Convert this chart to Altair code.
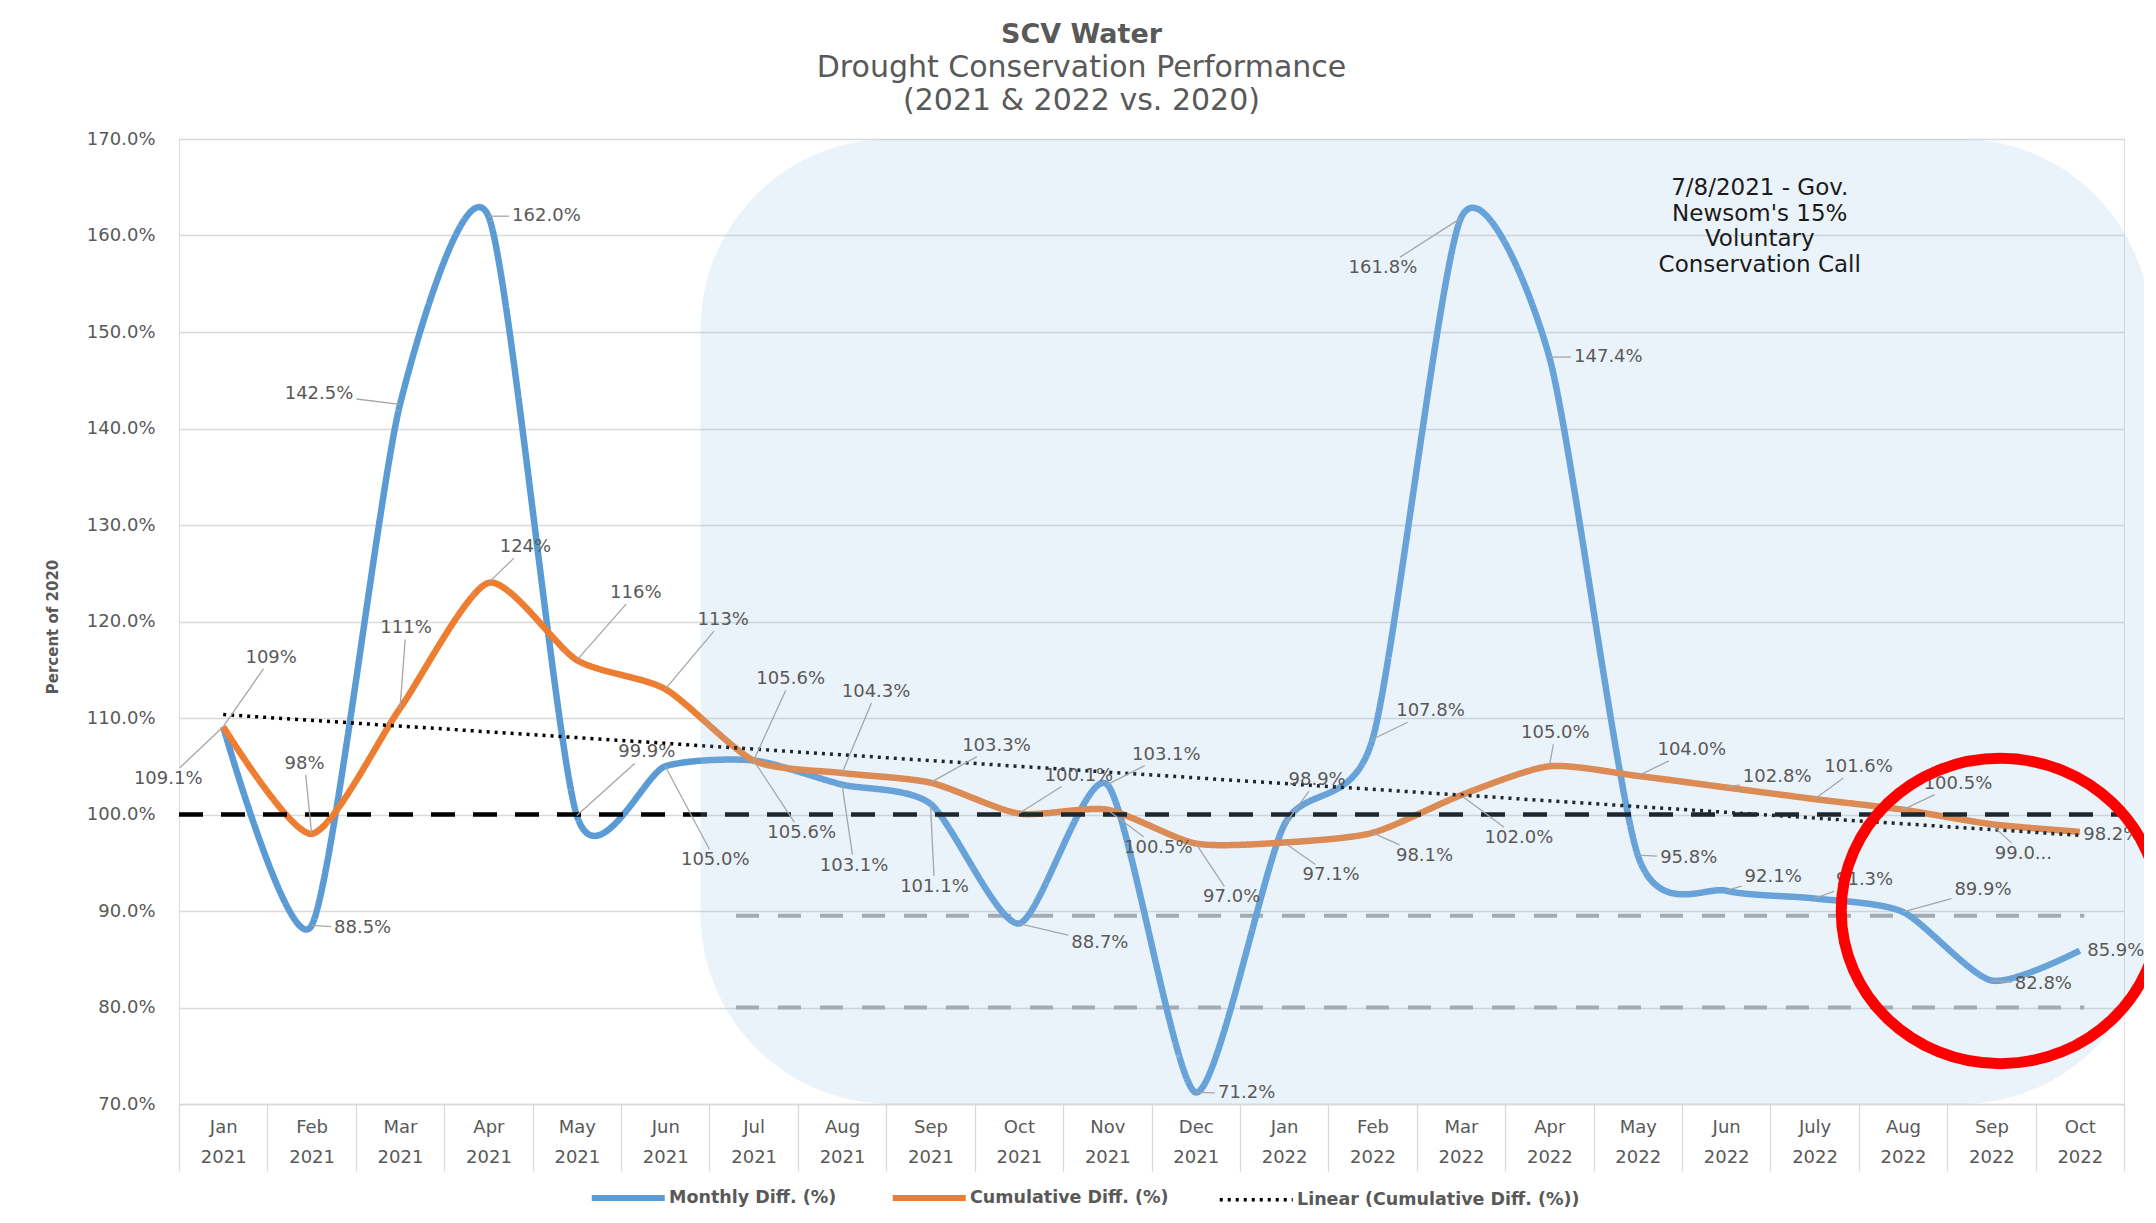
import altair as alt
import pandas as pd

# ---------------- data ----------------
MONTHS = ["Jan", "Feb", "Mar", "Apr", "May", "Jun", "Jul", "Aug", "Sep", "Oct", "Nov", "Dec",
          "Jan", "Feb", "Mar", "Apr", "May", "Jun", "July", "Aug", "Sep", "Oct"]
YEARS = ["2021"] * 12 + ["2022"] * 10

MONTHLY = [109.1, 88.5, 142.5, 162.0, 99.9, 105.0, 105.6, 103.1, 101.1, 88.7, 103.1, 71.2,
           98.9, 107.8, 161.8, 147.4, 95.8, 92.1, 91.3, 89.9, 82.8, 85.9]
CUMULATIVE = [109.1, 98.0, 111.0, 124.0, 116.0, 113.0, 105.6, 104.3, 103.3, 100.1, 100.5, 97.0,
              97.1, 98.1, 102.0, 105.0, 104.0, 102.8, 101.6, 100.5, 99.0, 98.2]

MONTHLY_LABELS = ["109.1%", "88.5%", "142.5%", "162.0%", "99.9%", "105.0%", "105.6%", "103.1%",
                  "101.1%", "88.7%", "103.1%", "71.2%", "98.9%", "107.8%", "161.8%", "147.4%",
                  "95.8%", "92.1%", "91.3%", "89.9%", "82.8%", "85.9%"]
CUMULATIVE_LABELS = ["109%", "98%", "111%", "124%", "116%", "113%", "105.6%", "104.3%", "103.3%",
                     "100.1%", "100.5%", "97.0%", "97.1%", "98.1%", "102.0%", "105.0%", "104.0%",
                     "102.8%", "101.6%", "100.5%", "99.0...", "98.2%"]

SERIES = ["Monthly Diff. (%)", "Cumulative Diff. (%)", "Linear (Cumulative Diff. (%))"]

BASELINE_LEVEL = [100]
TARGET_LEVELS = [89.5, 80]
TARGET_SPAN = [5.8, 21.05]          # in month-index units
HIGHLIGHT_SPAN = [5.4, 21.8]        # shaded "drought call" period, month-index units
ANNOTATION_TEXT = "7/8/2021 - Gov.\nNewsom's 15%\nVoluntary\nConservation Call"
ANNOTATION_POS = [17.38, 164.9]
CIRCLE_POS = [20.1, 90.0]

# ---------------- style ----------------
W, H = 1945, 965
PAD = {"left": 171, "top": 131, "right": 20, "bottom": 109}
FONT = "DejaVu Sans"
TEXT = "#595959"
GRID = "#D9D9D9"
BLUE, ORANGE = "#5B9BD5", "#ED7D31"
LABEL_FS = 18
SYMBOL_LEN = 73

# label offsets (pixels, from the data point to label centre)
MONTHLY_LABEL_OFFSETS = [(-55, 52), (51, 3), (-81, -10), (58, 0), (70, -63), (50, 94), (48, 73),
                         (12, 81), (4, 83), (81, 19), (59, -30), (51, 1), (33, -45), (58, -28),
                         (-78, 50), (59, 0), (51, 3), (47, -14), (50, -18), (80, -22), (52, 4),
                         (36, 0)]
CUMULATIVE_LABEL_OFFSETS = [(48, -69), (-7, -70), (6, -80), (37, -36), (59, -67), (58, -69),
                            (37, -81), (34, -81), (66, -37), (60, -38), (51, 38), (36, 54),
                            (47, 33), (52, 23), (58, 43), (6, -33), (54, -26), (51, -10),
                            (44, -32), (55, -26), (32, 30), (32, 3)]

N = len(MONTHS)
X_MIN, X_MAX = -0.5, N - 0.5
Y_MIN, Y_MAX = 70, 170
PPC = W / (X_MAX - X_MIN)
PPP = H / (Y_MAX - Y_MIN)


def text_width(s, fs):
    w = 0.0
    for ch in s:
        if ch.isdigit():
            w += 0.636
        elif ch == ".":
            w += 0.318
        elif ch == "%":
            w += 0.95
        else:
            w += 0.6
    return w * fs


label_rows, leader_rows = [], []
for vals, labs, offs in [(MONTHLY, MONTHLY_LABELS, MONTHLY_LABEL_OFFSETS),
                         (CUMULATIVE, CUMULATIVE_LABELS, CUMULATIVE_LABEL_OFFSETS)]:
    for i, (v, lab, (dx, dy)) in enumerate(zip(vals, labs, offs)):
        label_rows.append({"lx": i + dx / PPC, "ly": v - dy / PPP, "text": lab})
        hw = text_width(lab, LABEL_FS) / 2 + 3
        hh = LABEL_FS * 0.5 + 2
        if abs(dx) <= hw and abs(dy) <= hh:
            continue
        t = min(hw / abs(dx) if dx else 1e9, hh / abs(dy) if dy else 1e9)
        ex, ey = dx * (1 - t), dy * (1 - t)
        if (ex ** 2 + ey ** 2) ** 0.5 < 10:
            continue
        leader_rows.append({"x1": i, "y1": v, "x2": i + ex / PPC, "y2": v - ey / PPP})

labels_df = pd.DataFrame(label_rows)
leaders_df = pd.DataFrame(leader_rows)

long_df = pd.DataFrame({
    "idx": list(range(N)) * 2,
    "value": MONTHLY + CUMULATIVE,
    "series": [SERIES[0]] * N + [SERIES[1]] * N,
})

# ---------------- scales / axes ----------------
label_arr = "[" + ",".join(f"['{m}','{y}']" for m, y in zip(MONTHS, YEARS)) + "]"
x_scale = alt.Scale(domain=[X_MIN, X_MAX], nice=False, zero=False)
y_scale = alt.Scale(domain=[Y_MIN, Y_MAX], nice=False, zero=False)
x_axis = alt.Axis(
    values=[i - 0.5 for i in range(N + 1)], grid=False, domain=True, domainColor=GRID,
    domainWidth=1.3, ticks=True, tickSize=67, tickColor=GRID, tickWidth=1.3,
    labelExpr=f"datum.value < {N - 1} ? {label_arr}[round(datum.value + 0.5)] : ''",
    labelOffset=PPC / 2, labelPadding=-53, labelBaseline="top", labelLineHeight=30,
    labelFontSize=18, labelColor=TEXT, labelFont=FONT, labelOverlap=False, labelFlush=False,
    labelBound=False, title=None)
y_axis = alt.Axis(
    values=list(range(Y_MIN, Y_MAX + 1, 10)), labelExpr="format(datum.value, '.1f') + '%'",
    grid=True, gridColor=GRID, gridWidth=1.3, domain=False, ticks=False, labelPadding=24,
    labelFontSize=18, labelColor=TEXT, labelFont=FONT, title="Percent of 2020",
    titleFont=FONT, titleFontSize=15, titleFontWeight="bold", titleColor=TEXT,
    titleX=-127, titleY=H / 2 + 5, titleBaseline="middle", titleAlign="center")


def X(f):
    return alt.X(f, type="quantitative", scale=x_scale, axis=x_axis)


def Y(f):
    return alt.Y(f, type="quantitative", scale=y_scale, axis=y_axis)


legend = alt.Legend(
    title=None, orient="none", legendX=409, legendY=1050, direction="horizontal",
    symbolType="stroke", symbolSize=SYMBOL_LEN ** 2, symbolOffset=SYMBOL_LEN / 2 - 5,
    symbolStrokeWidth={"expr": f"datum.value === '{SERIES[2]}' ? 3.5 : 6"},
    labelFontSize=17.5, labelFontWeight="bold", labelColor=TEXT, labelFont=FONT,
    labelLimit=600, columnPadding=43, labelOffset=32)
color_enc = alt.Color("series:N", scale=alt.Scale(domain=SERIES, range=[BLUE, ORANGE, "#000000"]),
                      legend=legend)
dash_enc = alt.StrokeDash("series:N",
                          scale=alt.Scale(domain=SERIES, range=[[1, 0], [1, 0], [3, 5]]),
                          legend=legend)

# ---------------- layers ----------------
target_df = pd.DataFrame({"x": [TARGET_SPAN[0]] * len(TARGET_LEVELS),
                          "x2": [TARGET_SPAN[1]] * len(TARGET_LEVELS), "y": TARGET_LEVELS})
targets = alt.Chart(target_df).mark_rule(color="#A6A6A6", strokeWidth=4, strokeDash=[23, 19]).encode(
    x=X("x"), x2="x2", y=Y("y"))

lines = alt.Chart(long_df).mark_line(strokeWidth=6.5, interpolate="cardinal", tension=0.3).encode(
    x=X("idx"), y=Y("value"), color=color_enc, strokeDash=dash_enc)

trend = (alt.Chart(long_df)
         .transform_filter(alt.datum.series == SERIES[1])
         .transform_regression("idx", "value")
         .transform_calculate(series=f"'{SERIES[2]}'")
         .mark_line(strokeWidth=3.5)
         .encode(x=X("idx"), y=Y("value"), color=color_enc, strokeDash=dash_enc))

base_df = pd.DataFrame({"x": [X_MIN], "x2": [X_MAX], "y": BASELINE_LEVEL})
baseline = alt.Chart(base_df).mark_rule(color="#000000", strokeWidth=4.5, strokeDash=[24, 18]).encode(
    x=X("x"), x2="x2", y=Y("y"))

hl_df = pd.DataFrame({"x": [HIGHLIGHT_SPAN[0]], "x2": [HIGHLIGHT_SPAN[1]],
                      "y": [Y_MIN], "y2": [Y_MAX]})
highlight = alt.Chart(hl_df).mark_rect(cornerRadius=190, color="#9DC3E6", opacity=0.2).encode(
    x=X("x"), x2="x2", y=Y("y"), y2="y2")

leaders = alt.Chart(leaders_df).mark_rule(color="#A6A6A6", strokeWidth=1.3).encode(
    x=X("x1"), y=Y("y1"), x2="x2", y2="y2")

labels = alt.Chart(labels_df).mark_text(font=FONT, fontSize=LABEL_FS, color=TEXT, align="center",
                                        baseline="middle").encode(
    x=X("lx"), y=Y("ly"), text="text:N")

ann_df = pd.DataFrame({"x": [ANNOTATION_POS[0]], "y": [ANNOTATION_POS[1]], "t": [ANNOTATION_TEXT]})
annotation = alt.Chart(ann_df).mark_text(font=FONT, fontSize=23, color="#1A1A1A", align="center",
                                         baseline="middle", lineBreak="\n", lineHeight=25.5).encode(
    x=X("x"), y=Y("y"), text="t:N")

ELLIPSE = "M -1 0 A 1 0.96 0 1 1 1 0 A 1 0.96 0 1 1 -1 0 Z"
circ_df = pd.DataFrame({"x": [CIRCLE_POS[0]], "y": [CIRCLE_POS[1]]})
circle = alt.Chart(circ_df).mark_point(shape=ELLIPSE, size=318 ** 2, stroke="#FF0000", strokeWidth=11,
                                       filled=False, opacity=1).encode(x=X("x"), y=Y("y"))

chart = alt.layer(targets, lines, trend, baseline, highlight, leaders, labels, annotation, circle).properties(
    width=W, height=H,
    padding=PAD,
    autosize=alt.AutoSizeParams(type="none"),
    title=alt.TitleParams(
        text="SCV Water",
        subtitle=["Drought Conservation Performance", "(2021 & 2022 vs. 2020)"],
        anchor="middle", dx=-70, font=FONT, fontSize=27, fontWeight="bold", color=TEXT,
        subtitleFont=FONT, subtitleFontSize=30, subtitleColor=TEXT, subtitleLineHeight=33,
        subtitlePadding=4, offset=13),
).configure_view(stroke=None).configure(background="white", font=FONT)

chart.save("out.html", embed_options={"renderer": "svg", "actions": False})
